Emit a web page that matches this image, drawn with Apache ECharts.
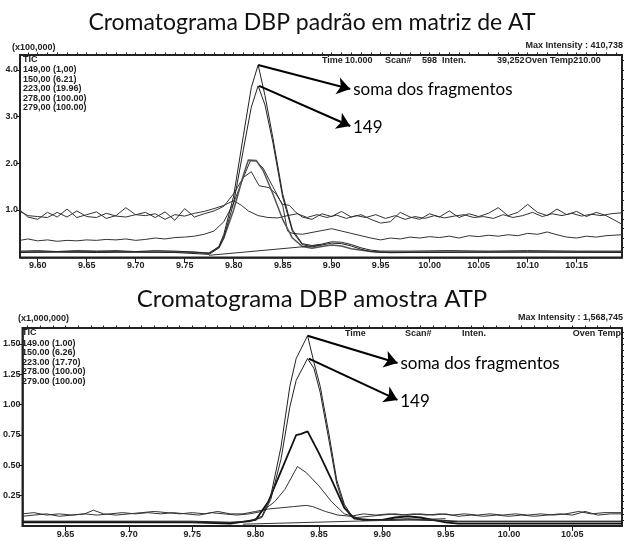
<!DOCTYPE html>
<html>
<head>
<meta charset="utf-8">
<script src="https://cdn.jsdelivr.net/npm/echarts@6/dist/echarts.min.js"></script>
<style>html,body{margin:0;padding:0;background:#fff}#main{width:624px;height:541px}</style>
</head>
<body>
<div id="main"></div>
<script>
// eixos
const topTimeTicks = [9.60, 9.65, 9.70, 9.75, 9.80, 9.85, 9.90, 9.95, 10.00, 10.05, 10.10, 10.15]
const topIntTicks = [1.0, 2.0, 3.0, 4.0]
const botTimeTicks = [9.65, 9.70, 9.75, 9.80, 9.85, 9.90, 9.95, 10.00, 10.05]
const botIntTicks = [0.25, 0.50, 0.75, 1.00, 1.25, 1.50]

const topLegend = ['TIC', '149,00 (1,00)', '150,00 (6.21)', '223,00 (19.96)', '278,00 (100.00)', '279,00 (100.00)']
const botLegend = ['TIC', '149.00 (1.00)', '150.00 (6.26)', '223.00 (17.70)', '278.00 (100.00)', '279.00 (100.00)']

// padrao em matriz (x100,000)  [tempo, intensidade]
const topTIC = [[9.582,0.12],[9.60,0.13],[9.62,0.11],[9.64,0.13],[9.66,0.12],[9.68,0.13],[9.70,0.11],[9.72,0.13],[9.74,0.12],[9.76,0.10],[9.775,0.07],[9.785,0.22],[9.79,0.48],[9.80,1.3],[9.81,2.6],[9.818,3.62],[9.825,4.107],[9.832,3.45],[9.84,2.55],[9.85,1.35],[9.86,0.58],[9.87,0.28],[9.88,0.24],[9.89,0.27],[9.90,0.32],[9.91,0.31],[9.92,0.26],[9.93,0.19],[9.94,0.14],[9.95,0.12],[9.98,0.12],[10.02,0.13],[10.06,0.12],[10.10,0.13],[10.15,0.12],[10.196,0.12]]
const top149 = [[9.582,0.09],[9.62,0.10],[9.66,0.09],[9.70,0.10],[9.74,0.09],[9.775,0.05],[9.785,0.19],[9.79,0.42],[9.80,1.15],[9.81,2.3],[9.818,3.2],[9.825,3.66],[9.832,3.25],[9.84,2.45],[9.85,1.28],[9.86,0.54],[9.87,0.26],[9.88,0.21],[9.89,0.25],[9.90,0.29],[9.91,0.28],[9.92,0.23],[9.93,0.16],[9.94,0.11],[9.95,0.09],[10.0,0.09],[10.1,0.10],[10.196,0.09]]
const top150 = [[9.582,0.10],[9.65,0.11],[9.70,0.10],[9.75,0.10],[9.775,0.08],[9.785,0.2],[9.79,0.4],[9.80,1.0],[9.81,1.75],[9.815,2.07],[9.823,2.06],[9.83,1.85],[9.84,1.35],[9.85,0.8],[9.86,0.4],[9.87,0.22],[9.88,0.18],[9.89,0.22],[9.90,0.25],[9.91,0.23],[9.92,0.17],[9.94,0.11],[9.96,0.09],[10.0,0.10],[10.1,0.10],[10.196,0.10]]
const top223 = [[9.582,0.35],[9.59,0.38],[9.60,0.34],[9.61,0.36],[9.62,0.33],[9.63,0.35],[9.64,0.34],[9.65,0.36],[9.66,0.35],[9.67,0.37],[9.68,0.36],[9.69,0.38],[9.70,0.35],[9.71,0.37],[9.72,0.40],[9.73,0.38],[9.74,0.41],[9.75,0.42],[9.76,0.44],[9.77,0.48],[9.78,0.55],[9.79,0.75],[9.80,1.15],[9.81,1.7],[9.817,2.05],[9.823,2.05],[9.83,1.9],[9.84,1.5],[9.85,1.1],[9.855,0.55],[9.86,0.5],[9.87,0.48],[9.88,0.52],[9.89,0.56],[9.90,0.6],[9.91,0.55],[9.92,0.5],[9.93,0.45],[9.94,0.40],[9.95,0.36],[9.96,0.40],[9.97,0.38],[9.98,0.42],[9.99,0.40],[10.00,0.43],[10.01,0.41],[10.02,0.44],[10.03,0.40],[10.04,0.45],[10.05,0.43],[10.06,0.46],[10.07,0.44],[10.08,0.47],[10.09,0.45],[10.10,0.50],[10.11,0.48],[10.12,0.53],[10.13,0.47],[10.14,0.42],[10.15,0.40],[10.16,0.44],[10.17,0.42],[10.18,0.45],[10.196,0.47]]
const top278 = [[9.582,1.0],[9.59,0.85],[9.60,0.80],[9.61,0.95],[9.62,0.85],[9.63,1.02],[9.64,0.84],[9.65,0.90],[9.66,0.96],[9.67,0.82],[9.68,0.88],[9.69,1.05],[9.70,0.90],[9.71,0.95],[9.72,0.84],[9.73,0.96],[9.74,0.78],[9.75,1.03],[9.76,0.85],[9.77,0.92],[9.78,0.98],[9.79,1.08],[9.80,1.35],[9.81,1.70],[9.818,1.82],[9.826,1.52],[9.836,1.48],[9.843,1.35],[9.85,1.12],[9.857,1.10],[9.863,0.96],[9.87,0.85],[9.88,0.80],[9.89,0.92],[9.90,0.86],[9.91,0.97],[9.92,0.85],[9.93,0.90],[9.94,0.80],[9.95,0.72],[9.96,0.75],[9.97,0.95],[9.98,0.85],[9.99,0.80],[10.00,0.92],[10.01,0.85],[10.02,0.98],[10.03,0.84],[10.04,0.92],[10.05,0.86],[10.06,0.93],[10.07,1.05],[10.08,0.88],[10.09,0.95],[10.10,1.12],[10.11,0.95],[10.12,0.88],[10.13,1.02],[10.14,0.90],[10.15,0.97],[10.16,0.86],[10.17,0.95],[10.18,0.88],[10.196,0.70]]
const top279 = [[9.582,0.97],[9.59,0.88],[9.60,0.86],[9.61,0.84],[9.62,0.95],[9.63,0.85],[9.64,0.98],[9.65,0.86],[9.66,0.84],[9.67,0.93],[9.68,0.87],[9.69,0.85],[9.70,0.90],[9.71,0.88],[9.72,0.92],[9.73,0.80],[9.74,0.90],[9.75,0.87],[9.76,0.93],[9.77,0.97],[9.78,1.03],[9.79,1.10],[9.80,1.20],[9.808,1.10],[9.815,0.98],[9.825,0.88],[9.835,0.84],[9.845,0.83],[9.855,0.88],[9.865,0.92],[9.875,0.84],[9.885,0.90],[9.895,0.84],[9.905,0.89],[9.915,0.82],[9.925,0.88],[9.935,0.84],[9.945,0.90],[9.955,0.82],[9.965,0.88],[9.975,0.80],[9.985,0.86],[9.995,0.82],[10.005,0.88],[10.015,0.83],[10.025,0.87],[10.035,0.90],[10.045,0.84],[10.055,0.86],[10.065,0.82],[10.075,0.90],[10.085,0.84],[10.095,0.88],[10.105,0.95],[10.115,0.86],[10.125,0.92],[10.135,0.88],[10.145,0.93],[10.155,0.87],[10.165,0.91],[10.175,0.88],[10.185,0.92],[10.196,0.94]]
const topBase = [[9.775,0.03],[9.89,0.25]]

// amostra ATP (x1,000,000)
const botTIC = [[9.616,0.04],[9.70,0.04],[9.75,0.04],[9.78,0.03],[9.795,0.04],[9.805,0.08],[9.812,0.25],[9.82,0.65],[9.827,1.15],[9.832,1.38],[9.841,1.5687],[9.846,1.35],[9.851,1.15],[9.858,0.75],[9.864,0.38],[9.87,0.18],[9.876,0.08],[9.885,0.05],[9.90,0.05],[9.92,0.06],[9.94,0.05],[9.96,0.04],[10.0,0.04],[10.089,0.04]]
const bot149 = [[9.616,0.035],[9.70,0.035],[9.78,0.03],[9.795,0.035],[9.805,0.07],[9.812,0.22],[9.82,0.55],[9.827,0.98],[9.832,1.2],[9.841,1.38],[9.846,1.3],[9.851,1.1],[9.858,0.7],[9.864,0.35],[9.87,0.16],[9.876,0.07],[9.885,0.045],[9.90,0.045],[9.92,0.05],[9.94,0.045],[9.96,0.035],[10.0,0.035],[10.089,0.035]]
const bot150 = [[9.616,0.03],[9.70,0.03],[9.75,0.03],[9.78,0.02],[9.80,0.05],[9.81,0.2],[9.82,0.45],[9.832,0.75],[9.836,0.76],[9.841,0.78],[9.85,0.6],[9.86,0.38],[9.87,0.15],[9.878,0.06],[9.89,0.05],[9.90,0.05],[9.91,0.07],[9.92,0.08],[9.93,0.07],[9.94,0.05],[9.95,0.03],[9.96,0.02],[10.0,0.02],[10.089,0.02]]
const bot223 = [[9.616,0.08],[9.625,0.09],[9.635,0.10],[9.645,0.08],[9.655,0.09],[9.665,0.10],[9.675,0.09],[9.685,0.10],[9.695,0.11],[9.705,0.10],[9.715,0.11],[9.725,0.10],[9.735,0.11],[9.745,0.10],[9.755,0.09],[9.765,0.11],[9.775,0.10],[9.785,0.09],[9.795,0.10],[9.805,0.12],[9.815,0.2],[9.823,0.3],[9.833,0.49],[9.84,0.44],[9.85,0.33],[9.86,0.2],[9.87,0.1],[9.88,0.07],[9.89,0.08],[9.90,0.09],[9.91,0.10],[9.92,0.09],[9.93,0.10],[9.94,0.09],[9.95,0.10],[9.96,0.08],[9.97,0.09],[9.98,0.08],[9.99,0.09],[10.00,0.08],[10.01,0.09],[10.02,0.08],[10.03,0.09],[10.04,0.10],[10.05,0.09],[10.06,0.12],[10.07,0.09],[10.08,0.10],[10.089,0.10]]
const bot278 = [[9.616,0.10],[9.625,0.11],[9.635,0.09],[9.645,0.10],[9.655,0.09],[9.665,0.10],[9.672,0.13],[9.68,0.10],[9.69,0.09],[9.70,0.10],[9.71,0.11],[9.72,0.12],[9.73,0.11],[9.74,0.10],[9.75,0.11],[9.76,0.10],[9.77,0.12],[9.78,0.10],[9.79,0.10],[9.80,0.12],[9.81,0.14],[9.82,0.15],[9.83,0.16],[9.84,0.17],[9.845,0.16],[9.855,0.12],[9.865,0.09],[9.875,0.08],[9.885,0.10],[9.895,0.09],[9.905,0.10],[9.915,0.09],[9.925,0.10],[9.935,0.09],[9.945,0.10],[9.955,0.09],[9.965,0.10],[9.975,0.09],[9.985,0.10],[9.995,0.09],[10.005,0.10],[10.015,0.09],[10.025,0.10],[10.035,0.09],[10.045,0.10],[10.055,0.12],[10.065,0.10],[10.075,0.11],[10.089,0.11]]
const botBase = [[9.79,0.015],[9.95,0.06]]

// setas: pico -> texto
const topArrowFrom = [[9.825, 4.107], [9.826, 3.66]]
const topArrowTo = [[9.919, 3.59], [9.919, 2.80]]
const botArrowFrom = [[9.841, 1.5687], [9.842, 1.38]]
const botArrowTo = [[9.912, 1.344], [9.912, 1.039]]
const arrowText = ['soma dos fragmentos', '149']

const narrow = 'Liberation Sans Narrow, Liberation Sans, Arial, sans-serif'
const ink = '#222'

function range(a, b, step) {
  const out = []
  for (let i = 0; a + i * step <= b + 1e-9; i++) out.push(+(a + i * step).toFixed(4))
  return out
}

function xAxes(grid, min, max, ticks, minor) {
  return [{
    type: 'value', gridIndex: grid, min: min, max: max,
    axisLine: { show: true, onZero: false, lineStyle: { color: ink, width: 1.5 } },
    axisTick: { show: true, customValues: ticks, length: 5, lineStyle: { color: ink } },
    axisLabel: { customValues: ticks, formatter: v => v.toFixed(2), fontSize: 9, fontWeight: 'bold', fontFamily: narrow, color: ink, margin: 4 },
    splitLine: { show: false }
  }, {
    type: 'value', gridIndex: grid, min: min, max: max,
    axisLine: { show: false, onZero: false },
    axisTick: { show: true, customValues: minor, length: 2.5, lineStyle: { color: ink } },
    axisLabel: { show: false }, splitLine: { show: false }
  }]
}

function yAxes(grid, min, max, ticks, minor, digits) {
  return [{
    type: 'value', gridIndex: grid, min: min, max: max,
    axisLine: { show: true, onZero: false, lineStyle: { color: ink, width: 1.5 } },
    axisTick: { show: true, customValues: ticks, length: 4, lineStyle: { color: ink } },
    axisLabel: { customValues: ticks, formatter: v => v.toFixed(digits), fontSize: 9, fontWeight: 'bold', fontFamily: narrow, color: ink, margin: 2 },
    splitLine: { show: false }
  }, {
    type: 'value', gridIndex: grid, min: min, max: max,
    axisLine: { show: false, onZero: false },
    axisTick: { show: true, customValues: minor, length: 2, lineStyle: { color: ink } },
    axisLabel: { show: false }, splitLine: { show: false }
  }]
}

function line(data, xi, yi, color, width) {
  return { type: 'line', xAxisIndex: xi, yAxisIndex: yi, data: data, symbol: 'none', silent: true,
    lineStyle: { color: color, width: width } }
}

function arrows(from, to) {
  return {
    silent: true, symbol: ['none', 'arrow'], symbolSize: 13,
    lineStyle: { color: '#000', width: 2, type: 'solid' },
    label: { show: true, position: 'end', distance: 3, color: '#000', fontSize: 17, fontFamily: 'Lato, sans-serif' },
    data: from.map((f, i) => [{ coord: f }, { coord: to[i], label: { formatter: arrowText[i] } }])
  }
}

function txt(x, y, text, align, size) {
  return { type: 'text', x: x, y: y, silent: true,
    style: { text: text, fill: ink, font: 'bold ' + (size || 9) + 'px ' + narrow, align: align || 'left', verticalAlign: 'middle' } }
}

const graphics = [
  txt(12, 48, '(x100,000)'),
  txt(623, 46, 'Max Intensity : 410,738', 'right'),
  txt(322, 61, 'Time'), txt(345, 61, '10.000'), txt(385, 61, 'Scan#'), txt(422, 61, '598'),
  txt(442, 61, 'Inten.'), txt(497, 61, '39,252'), txt(525, 61, 'Oven Temp210.00'),
  txt(18, 319, '(x1,000,000)'),
  txt(623, 318, 'Max Intensity : 1,568,745', 'right'),
  txt(345, 334, 'Time'), txt(405, 334, 'Scan#'), txt(462, 334, 'Inten.'), txt(621, 334, 'Oven Temp', 'right')
]
const topRows = [60, 70, 79.5, 89, 98.5, 108]
const botRows = [333, 343.5, 353, 362.5, 372, 381.5]
topLegend.forEach((t, i) => graphics.push(txt(23, topRows[i], t)))
botLegend.forEach((t, i) => graphics.push(txt(22, botRows[i], t)))

const chart = echarts.init(document.getElementById('main'))
const topTIClin = line(topTIC, 0, 0, ink, 1)
topTIClin.markLine = arrows(topArrowFrom, topArrowTo)
const botTIClin = line(botTIC, 2, 2, ink, 1)
botTIClin.markLine = arrows(botArrowFrom, botArrowTo)

chart.setOption({
  animation: false,
  backgroundColor: '#fff',
  title: [
    { text: 'Cromatograma DBP padrão em matriz de AT', left: 'center', top: 6,
      textStyle: { fontFamily: 'Lato, sans-serif', fontWeight: 'normal', fontSize: 23, color: '#111' } },
    { text: 'Cromatograma DBP amostra ATP', left: 'center', top: 282,
      textStyle: { fontFamily: 'Lato, sans-serif', fontWeight: 'normal', fontSize: 24, color: '#111' } }
  ],
  grid: [
    { left: 20, right: 2, top: 55, height: 202.5, show: true, borderColor: ink, borderWidth: 2 },
    { left: 21, right: 2, top: 328, height: 198, show: true, borderColor: ink, borderWidth: 2 }
  ],
  xAxis: [].concat(
    xAxes(0, 9.582, 10.1963, topTimeTicks, range(9.59, 10.19, 0.01)),
    xAxes(1, 9.616, 10.0892, botTimeTicks, range(9.62, 10.08, 0.01))
  ),
  yAxis: [].concat(
    yAxes(0, -0.017, 4.32, topIntTicks, range(0.2, 4.2, 0.2), 1),
    yAxes(1, 0, 1.632, botIntTicks, range(0.05, 1.6, 0.05), 2)
  ),
  graphic: graphics,
  series: [
    line(top279, 0, 0, '#333', 1),
    line(top278, 0, 0, '#333', 1),
    line(top223, 0, 0, '#333', 1),
    line(top150, 0, 0, '#555', 1.5),
    line(top149, 0, 0, ink, 1),
    topTIClin,
    line(topBase, 0, 0, '#333', 1),
    line(bot278, 2, 2, '#333', 1),
    line(bot223, 2, 2, '#333', 1),
    line(bot150, 2, 2, '#111', 1.8),
    line(bot149, 2, 2, ink, 1),
    botTIClin,
    line(botBase, 2, 2, '#333', 1)
  ]
})
</script>
</body>
</html>
